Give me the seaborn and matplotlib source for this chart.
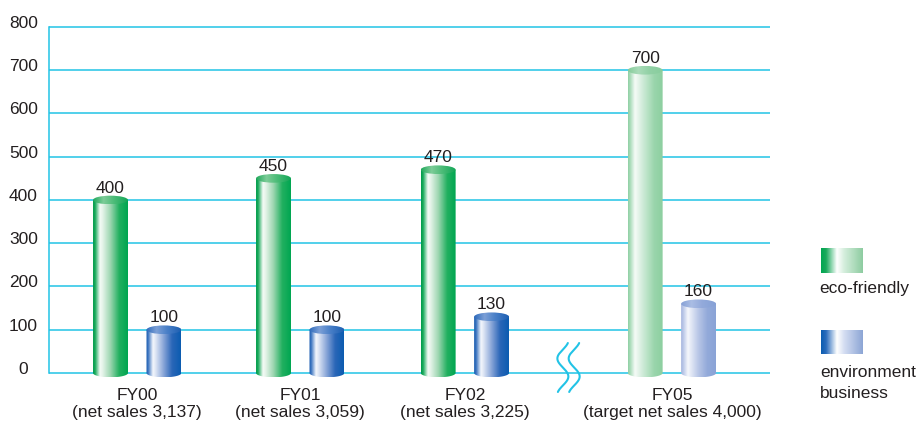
import numpy as np
import pandas as pd
import matplotlib
matplotlib.use("Agg")
import matplotlib.pyplot as plt
import seaborn as sns
from matplotlib.colors import LinearSegmentedColormap
from matplotlib.patches import Ellipse, Polygon
from matplotlib.transforms import ScaledTranslation

# ---- data -------------------------------------------------------------
years = ["FY00", "FY01", "FY02", "FY05"]
sales_notes = ["(net sales 3,137)", "(net sales 3,059)",
               "(net sales 3,225)", "(target net sales 4,000)"]
eco_friendly = [400, 450, 470, 700]
environment_business = [100, 100, 130, 160]
is_target = [False, False, False, True]
series_names = ["eco-friendly", "environment\nbusiness"]
y_ticks = [0, 100, 200, 300, 400, 500, 600, 700, 800]

# ---- layout -----------------------------------------------------------
# group centres on a numeric axis; the target year sits after a break
group_pos = [0.0, 1.0, 2.01, 3.28]
TEXT = "#231f20"
GRID = "#22c3e6"
CAP = 10  # half height of the cylinder end ellipses (data units)

sns.set_style("white")
plt.rcParams["font.family"] = ["Liberation Sans", "DejaVu Sans"]
plt.rcParams["font.size"] = 12.5

fig = plt.figure(figsize=(9.2, 4.26), dpi=100)
ax = fig.add_axes([49 / 920, (426 - 381.65) / 426, 721 / 920, (381.65 - 24.4) / 426])

df = pd.DataFrame({
    "pos": group_pos * 2,
    "value": eco_friendly + environment_business,
    "series": [series_names[0]] * 4 + [series_names[1]] * 4,
})

sns.barplot(data=df, x="pos", y="value", hue="series", hue_order=series_names,
            native_scale=True, width=0.656, gap=0.346, dodge=True,
            palette=["#00a651", "#1a5fb4"], errorbar=None, legend=False, ax=ax)


def cmap(name, colors, stops):
    return LinearSegmentedColormap.from_list(name, list(zip(stops, colors)))


body_stops = [0, 0.06, 0.2, 0.27, 0.5, 0.75, 1.0]
styles = {
    (0, False): (cmap("g", ["#009a4a", "#1aaa5c", "#f4fbf6", "#e6f4ea", "#9cd6b0", "#22b060", "#00a651"], body_stops),
                 cmap("gt", ["#1fa85a", "#7dcc98", "#4cbc78", "#12a656"], [0, 0.3, 0.6, 1])),
    (1, False): (cmap("b", ["#1a5cb0", "#3b74c0", "#f3f6fc", "#dfe7f5", "#8aa6d8", "#2a66b8", "#0b5cb0"], body_stops),
                 cmap("bt", ["#2a68ba", "#7c9fd6", "#4a80c8", "#1d5fb2"], [0, 0.3, 0.6, 1])),
    (0, True): (cmap("gp", ["#8fd0a4", "#a8dbb8", "#f5fbf7", "#eaf6ee", "#c2e6cd", "#9ad5ac", "#8ccf9f"], body_stops),
                cmap("gpt", ["#86cc9b", "#a9dcb9", "#92d1a6", "#88cd9d"], [0, 0.3, 0.6, 1])),
    (1, True): (cmap("bp", ["#a5b5df", "#b9c6e7", "#f5f7fc", "#e6ebf7", "#b8c6e6", "#93aada", "#8aa3d6"], body_stops),
                cmap("bpt", ["#86a0d6", "#aabde4", "#93aadb", "#86a1d6"], [0, 0.3, 0.6, 1])),
}

grad = np.linspace(0, 1, 256)[None, :]


def draw_cylinder(x0, w, h, body_cmap, top_cmap):
    xc = x0 + w / 2
    theta = np.linspace(0, np.pi, 80)
    arc = np.column_stack([xc - w / 2 * np.cos(theta), -CAP * np.sin(theta)])
    outline = np.vstack([[x0, h], arc, [x0 + w, h]])
    body = Polygon(outline, closed=True, transform=ax.transData)
    im = ax.imshow(grad, cmap=body_cmap, extent=[x0, x0 + w, -CAP, h],
                   aspect="auto", interpolation="bilinear", zorder=3)
    im.set_clip_path(body)
    top = Ellipse((xc, h), w, 2 * CAP, transform=ax.transData)
    im2 = ax.imshow(grad, cmap=top_cmap, extent=[x0, x0 + w, h - CAP, h + CAP],
                    aspect="auto", interpolation="bilinear", zorder=4)
    im2.set_clip_path(top)


for s, container in enumerate(ax.containers):
    for i, bar in enumerate(container):
        bar.set_visible(False)
        body_cmap, top_cmap = styles[(s, is_target[i])]
        draw_cylinder(bar.get_x(), bar.get_width(), bar.get_height(), body_cmap, top_cmap)
    ax.bar_label(container, fmt="%g", padding=3.2, color=TEXT, fontsize=12.5, zorder=5)

# ---- axes styling -----------------------------------------------------
ax.set_xlim(-0.5414, 3.882)
ax.set_ylim(-20, 806)
ax.set_xlabel("")
ax.set_ylabel("")

ax.set_yticks(y_ticks)
ax.set_yticklabels([str(t) for t in y_ticks])
ax.tick_params(axis="y", length=0, pad=18.4, labelcolor=TEXT, labelsize=12.5)
shift_up = ScaledTranslation(0, 5 / 100, fig.dpi_scale_trans)
for lbl in ax.get_yticklabels():
    lbl.set_ha("center")
    lbl.set_transform(lbl.get_transform() + shift_up)

ax.set_xticks(group_pos)
ax.set_xticklabels([f"{y}\n{n}" for y, n in zip(years, sales_notes)],
                   ha="center", multialignment="center")
ax.tick_params(axis="x", length=0, pad=4.5, labelcolor=TEXT, labelsize=12.5)

ax.grid(False)
ax.yaxis.grid(True, color=GRID, linewidth=1.1)
ax.set_axisbelow(True)
for side in ["top", "right", "bottom"]:
    ax.spines[side].set_visible(False)
ax.spines["left"].set_bounds(0, 800)
ax.spines["left"].set_color(GRID)
ax.spines["left"].set_linewidth(1.1)

# ---- axis break marks between FY02 and FY05 ---------------------------
x_break = (group_pos[2] + group_pos[3]) / 2
t = np.linspace(-0.18, 1.18, 160)
half_h = 0.18  # inches
for dx in (-0.055, 0.058):
    xs = dx - 0.055 * np.sin(2 * np.pi * t)
    ys = 0.055 + half_h * (1 - 2 * t)
    trans = fig.dpi_scale_trans + ScaledTranslation(x_break, 0, ax.transData)
    ax.plot(xs, ys, color=GRID, linewidth=1.5, transform=trans, clip_on=False,
            solid_capstyle="round", zorder=2)

# ---- legend -------------------------------------------------------------
legend_maps = [
    cmap("lg", ["#00a651", "#1aaa5c", "#ffffff", "#d5eedd", "#8dcca0"], [0, 0.12, 0.38, 0.55, 1]),
    cmap("lb", ["#0b5cb0", "#2a6cbc", "#ffffff", "#d5def2", "#8ca5d5"], [0, 0.12, 0.38, 0.55, 1]),
]
swatch_boxes = [
    [821 / 920, (426 - 273) / 426, 42 / 920, 25 / 426],
    [821 / 920, (426 - 354) / 426, 42 / 920, 24 / 426],
]
for box, lm in zip(swatch_boxes, legend_maps):
    sw = fig.add_axes(box)
    sw.imshow(grad, cmap=lm, aspect="auto", interpolation="bilinear")
    sw.set_axis_off()

fig.text(819 / 920, (426 - 293.5) / 426, series_names[0], ha="left", va="baseline",
         color=TEXT, fontsize=12.5)
for k, line in enumerate(series_names[1].split("\n")):
    fig.text(820 / 920, (426 - (377 + 21 * k)) / 426, line, ha="left", va="baseline",
             color=TEXT, fontsize=12.5)

fig.savefig("out.png", dpi=100)
